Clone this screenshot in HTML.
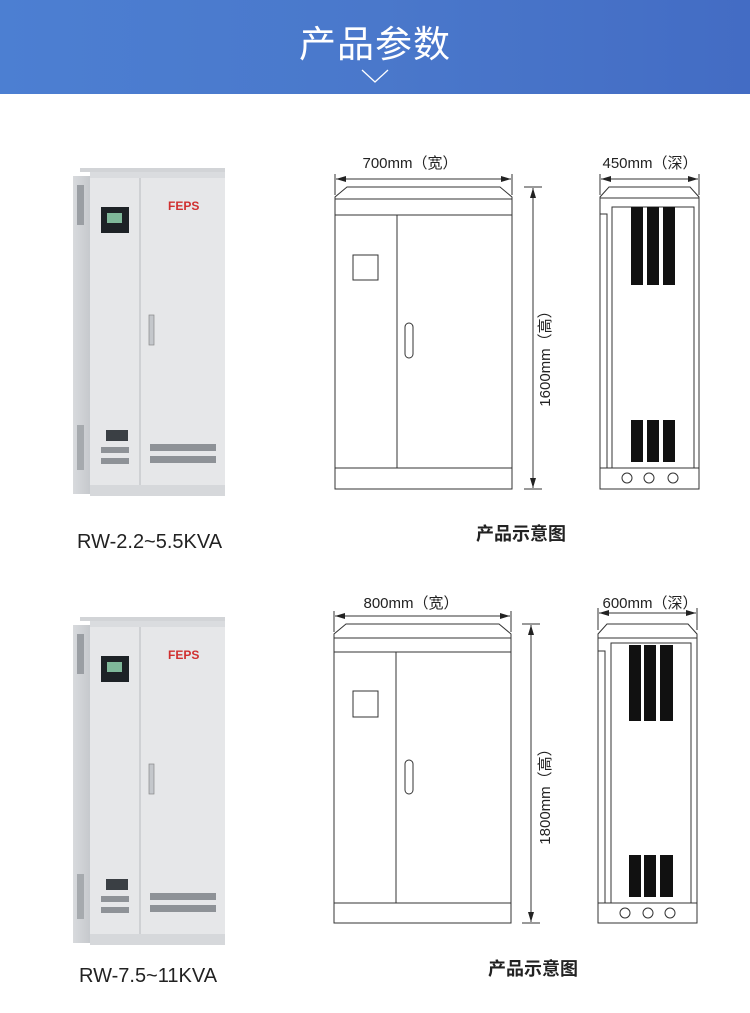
<!DOCTYPE html>
<html><head><meta charset="utf-8"><style>
html,body{margin:0;padding:0;background:#fff;}
body{width:750px;height:1013px;overflow:hidden;position:relative;font-family:"Liberation Sans","Noto Sans CJK SC",sans-serif;}
.hd{position:absolute;left:0;top:0;width:750px;height:94px;background:linear-gradient(90deg,#4c7fd2,#4a78cb 50%,#436cc4);}
.hd .t{position:absolute;left:0;width:750px;top:14px;text-align:center;color:#fff;font-size:37px;letter-spacing:1px;font-family:"Noto Sans CJK SC",sans-serif;}
svg{position:absolute;left:0;top:0;}
</style></head><body>
<div class="hd"><div class="t">产品参数</div>
<svg width="750" height="94"><polyline points="362,70 375,82 388,70" fill="none" stroke="#fff" stroke-width="1.3"/></svg></div>
<svg width="750" height="1013" font-family="Liberation Sans, Noto Sans CJK SC, sans-serif">
<defs>
<marker id="a" markerWidth="10" markerHeight="6" refX="10" refY="3" orient="auto-start-reverse"><path d="M0,0 L10,3 L0,6 z" fill="#222"/></marker>
<linearGradient id="sp" x1="0" x2="1"><stop offset="0" stop-color="#d8dadd"/><stop offset="1" stop-color="#c6c9cd"/></linearGradient>
<g id="photo">
 <rect x="73" y="176" width="17" height="318" fill="url(#sp)"/>
 <rect x="77" y="185" width="7" height="40" fill="#9a9ea3"/>
 <rect x="77" y="425" width="7" height="45" fill="#a6aaae"/>
 <rect x="90" y="172" width="135" height="324" fill="#e6e7e9"/>
 <rect x="90" y="168" width="135" height="10" fill="#dadcdf"/>
 <rect x="80" y="168" width="145" height="4" fill="#d2d4d7"/>
 <line x1="140" y1="178" x2="140" y2="485" stroke="#b8bbbf" stroke-width="1"/>
 <rect x="90" y="485" width="135" height="11" fill="#d6d8db"/>
 <rect x="101" y="207" width="28" height="26" fill="#1d2226"/>
 <rect x="107" y="213" width="15" height="10" fill="#7fb89a"/>
 <text x="168" y="210" font-size="12" fill="#d03030" font-weight="bold">FEPS</text>
 <rect x="149" y="315" width="5" height="30" fill="#c4c7cb" stroke="#888" stroke-width="0.7"/>
 <rect x="106" y="430" width="22" height="11" fill="#3a3f44"/>
 <rect x="101" y="447" width="28" height="6" fill="#8e9297"/>
 <rect x="101" y="458" width="28" height="6" fill="#8e9297"/>
 <rect x="150" y="444" width="66" height="7" fill="#8e9297"/>
 <rect x="150" y="456" width="66" height="7" fill="#8e9297"/>
</g>
</defs>
<use href="#photo"/>
<use href="#photo" y="449"/>
<text x="77" y="548" font-size="20" fill="#222">RW-2.2~5.5KVA</text>
<text x="79" y="982" font-size="20" fill="#222">RW-7.5~11KVA</text>

<g fill="none" stroke="#333" stroke-width="1">
 <path d="M335,197 L335,489 L512,489 L512,197 L500,187 L347,187 Z"/>
 <line x1="335" y1="199" x2="512" y2="199"/><line x1="335" y1="215" x2="512" y2="215"/>
 <line x1="397" y1="215" x2="397" y2="468"/><line x1="335" y1="468" x2="512" y2="468"/>
 <rect x="353" y="255" width="25" height="25"/><rect x="405" y="323" width="8" height="35" rx="4"/>
 <line x1="336" y1="179" x2="511" y2="179" marker-start="url(#a)" marker-end="url(#a)"/>
 <line x1="335" y1="174" x2="335" y2="195"/><line x1="512" y1="174" x2="512" y2="195"/>
 <line x1="533" y1="188" x2="533" y2="488" marker-start="url(#a)" marker-end="url(#a)"/>
 <line x1="524" y1="187" x2="542" y2="187"/><line x1="524" y1="489" x2="542" y2="489"/>
 <path d="M600,197 L600,489 L699,489 L699,197 L690,187 L609,187 Z"/>
 <line x1="600" y1="198" x2="699" y2="198"/>
 <rect x="612" y="207" width="82" height="261"/>
 <polyline points="600,214 607,214 607,468"/>
 <line x1="600" y1="468" x2="699" y2="468"/>
 <circle cx="627" cy="478" r="5"/><circle cx="649" cy="478" r="5"/><circle cx="673" cy="478" r="5"/>
 <line x1="601" y1="179" x2="698" y2="179" marker-start="url(#a)" marker-end="url(#a)"/>
 <line x1="600" y1="174" x2="600" y2="195"/><line x1="699" y1="174" x2="699" y2="195"/>
 <path d="M334,634 L334,923 L511,923 L511,634 L499,624 L346,624 Z"/>
 <line x1="334" y1="638" x2="511" y2="638"/><line x1="334" y1="652" x2="511" y2="652"/>
 <line x1="396" y1="652" x2="396" y2="903"/><line x1="334" y1="903" x2="511" y2="903"/>
 <rect x="353" y="691" width="25" height="26"/><rect x="405" y="760" width="8" height="34" rx="4"/>
 <line x1="335" y1="616" x2="510" y2="616" marker-start="url(#a)" marker-end="url(#a)"/>
 <line x1="334" y1="611" x2="334" y2="632"/><line x1="511" y1="611" x2="511" y2="632"/>
 <line x1="531" y1="625" x2="531" y2="922" marker-start="url(#a)" marker-end="url(#a)"/>
 <line x1="522" y1="624" x2="540" y2="624"/><line x1="522" y1="923" x2="540" y2="923"/>
 <path d="M598,634 L598,923 L697,923 L697,634 L688,624 L607,624 Z"/>
 <line x1="598" y1="638" x2="697" y2="638"/>
 <rect x="611" y="643" width="80" height="260"/>
 <polyline points="598,651 605,651 605,903"/>
 <line x1="598" y1="903" x2="697" y2="903"/>
 <circle cx="625" cy="913" r="5"/><circle cx="648" cy="913" r="5"/><circle cx="670" cy="913" r="5"/>
 <line x1="599" y1="613" x2="696" y2="613" marker-start="url(#a)" marker-end="url(#a)"/>
 <line x1="598" y1="608" x2="598" y2="630"/><line x1="697" y1="608" x2="697" y2="630"/>
</g>
<g fill="#111">
 <rect x="631" y="207" width="12" height="78"/><rect x="647" y="207" width="12" height="78"/><rect x="663" y="207" width="12" height="78"/>
 <rect x="631" y="420" width="12" height="42"/><rect x="647" y="420" width="12" height="42"/><rect x="663" y="420" width="12" height="42"/>
 <rect x="629" y="645" width="12" height="76"/><rect x="644" y="645" width="12" height="76"/><rect x="660" y="645" width="13" height="76"/>
 <rect x="629" y="855" width="12" height="42"/><rect x="644" y="855" width="12" height="42"/><rect x="660" y="855" width="13" height="42"/>
</g>
<g font-size="15" fill="#222" text-anchor="middle">
 <text x="410" y="168">700mm（宽）</text>
 <text x="650" y="168">450mm（深）</text>
 <text x="411" y="608">800mm（宽）</text>
 <text x="650" y="608">600mm（深）</text>
 <text transform="translate(550,355) rotate(-90)">1600mm（高）</text>
 <text transform="translate(550,793) rotate(-90)">1800mm（高）</text>
</g>
<g font-size="18" fill="#222" text-anchor="middle" font-weight="bold">
 <text x="521" y="540">产品示意图</text>
 <text x="533" y="975">产品示意图</text>
</g>
</svg>
</body></html>
